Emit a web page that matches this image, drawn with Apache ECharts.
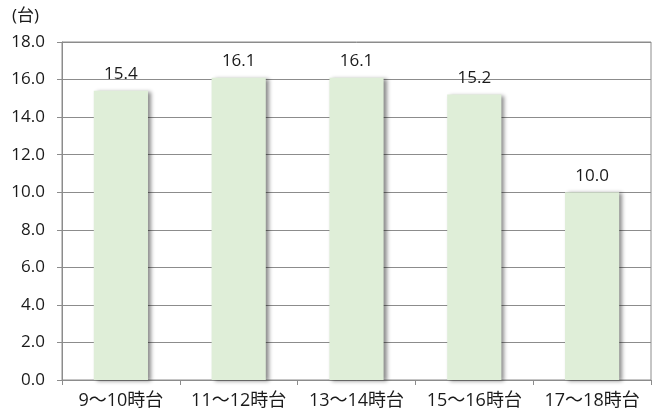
<!DOCTYPE html>
<html>
<head>
<meta charset="utf-8">
<script src="https://cdn.jsdelivr.net/npm/echarts@6/dist/echarts.min.js"></script>
<style>
  html, body { margin: 0; padding: 0; background: #fff; }
  #chart { width: 653px; height: 414px; }
</style>
</head>
<body>
<div id="chart"></div>
<script>
// Average count per time slot
const categories = ['9～10時台', '11～12時台', '13～14時台', '15～16時台', '17～18時台'];
const values = [15.4, 16.1, 16.1, 15.2, 10.0];
const yUnit = '(台)';

const FONT = '"Open Sans", "Noto Sans CJK JP", sans-serif';

const chart = echarts.init(document.getElementById('chart'), null, { renderer: 'canvas' });
chart.setOption({
  animation: false,
  backgroundColor: '#ffffff',
  grid: {
    left: 62, right: 2, top: 42, bottom: 34,
    show: true, borderColor: '#8c8c8c', borderWidth: 1,
    containLabel: false
  },
  graphic: [{
    type: 'text', left: 12, top: 8,
    style: { text: yUnit, font: '17px ' + FONT, fill: '#1a1a1a' }
  }],
  xAxis: {
    type: 'category',
    data: categories,
    axisLine: { lineStyle: { color: '#8c8c8c', width: 1 } },
    axisTick: { show: true, length: 5, alignWithLabel: false, lineStyle: { color: '#8c8c8c' } },
    axisLabel: { color: '#1a1a1a', fontSize: 18, fontFamily: FONT, margin: 12, interval: 0 }
  },
  yAxis: {
    type: 'value',
    min: 0, max: 18, interval: 2,
    axisLine: { show: true, lineStyle: { color: '#8c8c8c', width: 1 } },
    axisTick: { show: true, length: 5, lineStyle: { color: '#8c8c8c' } },
    splitLine: { lineStyle: { color: '#8c8c8c', width: 1 } },
    axisLabel: {
      color: '#1a1a1a', fontSize: 17, fontFamily: FONT, margin: 17,
      formatter: v => v.toFixed(1)
    }
  },
  series: [{
    type: 'bar',
    data: values,
    barWidth: '46%',
    itemStyle: {
      color: '#dfeed8',
      shadowColor: 'rgba(0,0,0,0.45)',
      shadowBlur: 4,
      shadowOffsetX: 3,
      shadowOffsetY: 1
    },
    label: {
      show: true, position: 'top', distance: 8,
      color: '#1a1a1a', fontSize: 17, fontFamily: FONT,
      formatter: p => p.value.toFixed(1)
    }
  }]
});
</script>
</body>
</html>
